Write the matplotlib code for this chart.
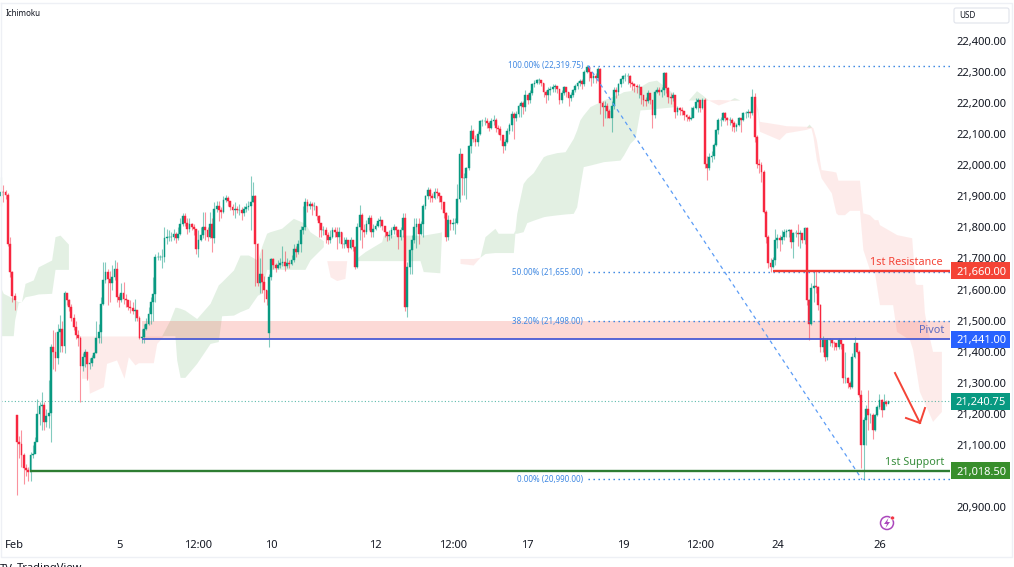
import numpy as np
import matplotlib
matplotlib.use("Agg")
import matplotlib.pyplot as plt
from matplotlib.patches import Rectangle, Circle, Polygon, FancyBboxPatch

plt.rcParams["font.family"] = ["Noto Sans", "DejaVu Sans"]

first_open = 21900
gap_opens = {7: 21197, 118: 21459}

closes = [
21915,21912,21905,21748,21657,21579,21568,21111,21105,21068,
21028,21020,21015,21070,21072,21111,21200,21225,21228,21176,
21195,21205,21416,21400,21380,21465,21475,21420,21590,21566,
21545,21510,21480,21455,21445,21355,21385,21400,21360,21365,
21380,21395,21445,21465,21555,21630,21655,21635,21620,21640,
21665,21577,21565,21590,21570,21565,21545,21540,21530,21535,
21510,21445,21448,21475,21490,21520,21560,21585,21705,21705,
21705,21705,21765,21770,21770,21770,21777,21765,21780,21810,
21835,21815,21795,21810,21800,21795,21730,21760,21775,21800,
21790,21770,21810,21765,21860,21870,21855,21850,21888,21895,
21885,21865,21855,21860,21855,21855,21845,21860,21865,21870,
21880,21900,21745,21620,21650,21625,21600,21570,21640,21697,
21680,21668,21680,21685,21690,21675,21687,21682,21695,21730,
21720,21745,21790,21800,21880,21870,21875,21870,21870,21835,
21815,21790,21790,21775,21760,21770,21790,21785,21770,21786,
21745,21748,21759,21732,21759,21738,21673,21802,21840,21790,
21785,21810,21830,21785,21795,21805,21820,21825,21805,21785,
21772,21775,21790,21800,21790,21770,21790,21830,21545,21673,
21727,21760,21800,21810,21780,21810,21870,21900,21920,21900,
21895,21915,21910,21900,21880,21845,21770,21825,21810,21815,
21815,21890,22035,21957,21960,21990,22060,22110,22085,22075,
22100,22140,22140,22142,22135,22120,22140,22145,22120,22115,
22096,22060,22075,22110,22130,22165,22150,22165,22190,22200,
22185,22225,22210,22230,22260,22265,22272,22272,22265,22235,
22225,22240,22245,22250,22255,22245,22210,22230,22250,22235,
22215,22225,22240,22255,22265,22270,22260,22300,22315,22300,
22280,22285,22280,22310,22200,22185,22190,22175,22150,22190,
22240,22235,22260,22275,22285,22285,22285,22265,22260,22255,
22250,22250,22225,22210,22205,22230,22210,22160,22236,22241,
22236,22240,22295,22247,22220,22214,22225,22170,22182,22178,
22175,22160,22155,22147,22150,22182,22204,22209,22182,22209,
22005,21989,22027,22030,22064,22112,22145,22145,22166,22150,
22145,22145,22135,22123,22128,22150,22145,22166,22166,22172,
22166,22220,22091,22005,22000,21979,21850,21770,21684,21674,
21695,21759,21765,21760,21770,21786,21788,21791,21754,21781,
21783,21779,21781,21759,21797,21566,21491,21604,21610,21608,
21550,21416,21438,21384,21438,21438,21430,21427,21416,21438,
21425,21315,21315,21299,21288,21384,21427,21400,21261,21100,
21181,21215,21197,21197,21149,21197,21224,21245,21213,21240,
21234,21240.75]

highs = [
21963,21935,21920,21910,21770,21660,21590,21197,21130,21150,
21075,21040,21030,21078,21100,21125,21250,21240,21272,21240,
21215,21309,21425,21470,21465,21490,21518,21500,21595,21590,
21570,21555,21520,21500,21470,21450,21395,21410,21400,21380,
21390,21400,21500,21490,21575,21690,21690,21665,21660,21680,
21695,21690,21585,21620,21625,21585,21565,21565,21560,21570,
21535,21515,21475,21490,21510,21545,21575,21640,21715,21720,
21712,21730,21800,21795,21790,21785,21795,21785,21800,21830,
21845,21845,21830,21830,21815,21810,21790,21790,21800,21850,
21850,21800,21850,21830,21880,21885,21885,21865,21900,21905,
21900,21885,21875,21880,21870,21875,21865,21870,21878,21885,
21965,21945,21905,21750,21700,21730,21645,21600,21650,21700,
21700,21685,21695,21700,21740,21725,21700,21695,21710,21745,
21740,21760,21805,21870,21895,21890,21885,21880,21880,21870,
21840,21815,21805,21800,21785,21790,21800,21800,21800,21800,
21785,21770,21770,21760,21770,21760,21740,21815,21872,21845,
21810,21825,21840,21840,21810,21815,21830,21835,21825,21805,
21785,21790,21800,21810,21805,21795,21800,21845,21845,21690,
21730,21775,21830,21830,21830,21820,21875,21905,21930,21925,
21910,21925,21925,21915,21900,21880,21850,21840,21825,21830,
21830,21940,22055,22035,21975,21995,22065,22130,22115,22095,
22110,22145,22148,22155,22150,22140,22150,22160,22150,22130,
22125,22090,22085,22120,22135,22175,22170,22175,22195,22205,
22205,22240,22230,22240,22265,22272,22278,22280,22272,22265,
22240,22250,22255,22262,22262,22255,22245,22240,22255,22250,
22235,22235,22245,22260,22270,22275,22275,22305,22320,22318,
22300,22295,22295,22315,22312,22205,22205,22200,22180,22205,
22250,22250,22265,22280,22290,22295,22295,22290,22270,22265,
22262,22262,22250,22225,22220,22240,22225,22210,22240,22250,
22250,22250,22300,22300,22250,22232,22235,22225,22190,22188,
22185,22175,22165,22160,22185,22190,22215,22215,22210,22215,
22215,22030,22040,22045,22070,22115,22150,22155,22172,22170,
22155,22155,22150,22140,22135,22155,22152,22170,22175,22180,
22175,22243,22230,22095,22020,22010,21985,21855,21775,21700,
21705,21795,21780,21775,21790,21795,21795,21795,21795,21785,
21790,21810,21790,21770,21800,21800,21570,21620,21660,21660,
21612,21555,21450,21440,21445,21445,21440,21435,21430,21445,
21440,21425,21400,21320,21305,21395,21448,21430,21405,21277,
21190,21230,21277,21205,21205,21200,21230,21265,21250,21265,
21245,21243]

lows = [
21870,21880,21890,21740,21640,21560,21534,20940,21060,21030,
20975,21000,20985,20985,21060,21105,21190,21165,21150,21150,
21160,21155,21110,21345,21340,21360,21400,21400,21395,21550,
21530,21500,21470,21440,21420,21238,21340,21350,21310,21345,
21355,21380,21395,21430,21430,21550,21620,21550,21560,21600,
21630,21560,21545,21560,21555,21545,21535,21525,21520,21500,
21500,21440,21430,21430,21470,21485,21490,21500,21560,21695,
21695,21670,21690,21745,21755,21755,21760,21750,21760,21775,
21805,21805,21780,21785,21790,21775,21715,21705,21755,21765,
21760,21755,21765,21720,21750,21850,21820,21830,21845,21880,
21870,21855,21840,21830,21845,21840,21825,21835,21850,21855,
21790,21880,21610,21610,21590,21590,21560,21550,21416,21630,
21665,21655,21665,21670,21675,21660,21670,21670,21680,21690,
21705,21715,21720,21780,21790,21850,21860,21840,21855,21825,
21770,21770,21775,21750,21745,21750,21765,21770,21730,21750,
21735,21735,21740,21720,21730,21725,21665,21670,21760,21735,
21770,21780,21790,21770,21770,21790,21800,21800,21790,21770,
21755,21760,21765,21780,21775,21730,21760,21770,21530,21512,
21650,21650,21750,21735,21745,21775,21770,21860,21890,21880,
21880,21890,21895,21880,21860,21830,21755,21760,21790,21790,
21780,21810,21880,21905,21905,21890,21985,22040,22075,22060,
22060,22095,22125,22130,22120,22110,22115,22130,22105,22100,
22080,22040,22050,22070,22100,22110,22085,22140,22155,22155,
22165,22175,22195,22200,22225,22250,22260,22262,22255,22220,
22200,22210,22225,22235,22235,22230,22195,22200,22225,22220,
22190,22205,22220,22235,22245,22255,22245,22255,22295,22270,
22255,22265,22265,22270,22165,22125,22150,22150,22150,22105,
22180,22215,22225,22250,22265,22270,22260,22250,22240,22235,
22230,22215,22195,22190,22190,22200,22195,22118,22150,22230,
22225,22220,22225,22230,22200,22195,22205,22150,22160,22160,
22160,22145,22140,22140,22145,22170,22180,22170,22170,22180,
21990,21952,21985,22010,22020,22060,22100,22125,22140,22140,
22130,22130,22110,22105,22110,22125,22107,22140,22150,22155,
22150,22160,22075,21990,21975,21945,21845,21750,21670,21655,
21670,21680,21735,21725,21745,21760,21770,21770,21735,21700,
21770,21740,21735,21750,21745,21550,21438,21485,21560,21590,
21535,21400,21400,21370,21375,21420,21415,21405,21405,21410,
21410,21300,21300,21285,21280,21285,21380,21395,21255,21026,
20988,21100,21150,21170,21120,21145,21195,21215,21190,21230,
21225,21238]

# Ichimoku cloud pieces (bar position, upper edge, lower edge)
green_a_x = [0,1,5.4,6,7.6,9,10.6,14.2,16.4,22.3,23.8,26,29.7]
green_a_top = [21604,21588,21572,21568,21561,21561,21620,21631,21673,21695,21770,21775,21746]
green_a_bot = [21452,21452,21452,21502,21558,21561,21577,21582,21586,21588,21665,21665,21665]

green_b_x = [70.8,74.4,76.6,77.4,78.9,81,86.2,92.1,95.7,97.2,102.4,105.3,109,113,114.8,117,118.5,123.6,128.8,133.9,136.1,142]
green_b_top = [21452,21502,21543,21543,21540,21534,21507,21556,21615,21625,21663,21711,21711,21695,21738,21781,21786,21797,21829,21813,21786,21757]
green_b_bot = [21452,21452,21452,21374,21318,21318,21363,21427,21433,21516,21518,21529,21540,21582,21588,21665,21665,21665,21665,21665,21695,21738]

green_c_x = [155.2,160.4,164,167.7,168.4,184.6,186,193.3,194]
green_c_top = [21693,21722,21738,21754,21775,21775,21775,21784,21786]
green_c_bot = [21693,21693,21693,21693,21693,21693,21658,21654,21770]

green_d_x = [211,213.2,217.6,219,225.7,226.4,227.2,230,231.6,234.5,238.9,240.4,244.8,248.5,252.1,253.6,255,256.5,259.5,265.4,272.7,274.2,277.1,279.3,281.5,285.2,288.8,296.2,297]
green_d_top = [21704,21770,21797,21781,21781,21791,21845,21941,21957,21976,22027,22032,22040,22043,22086,22113,22145,22161,22188,22209,22230,22236,22239,22250,22252,22268,22273,22230,22209]
green_d_bot = [21704,21716,21719,21719,21719,21781,21781,21786,21815,21823,21834,21836,21840,21843,21845,21866,21931,21995,22000,22011,22016,22032,22070,22086,22177,22179,22182,22187,22209]

green_e_x = [302.8,306.4,309,311.6]
green_e_top = [22209,22239,22225,22209]
green_e_bot = [22209,22209,22209,22209]

green_f_x = [321.1,323,325.5]
green_f_top = [22209,22217,22209]
green_f_bot = [22209,22209,22209]

green_g_x = [354.8,356,357]
green_g_top = [22122,22132,22122]
green_g_bot = [22122,22122,22122]

red_a_x = [34.8,35.5,38.5,38.9,45.1,46.5,50.9,54.2,56.1,59,60.5,67.1,68.6,71.5]
red_a_top = [21451]*14
red_a_bot = [21451,21315,21315,21267,21288,21363,21374,21315,21384,21358,21365,21365,21427,21451]

red_b_x = [143.5,145,147.9,151.5,152.3]
red_b_top = [21693]*5
red_b_bot = [21693,21641,21629,21636,21693]

red_d_x = [202.2,208,211]
red_d_top = [21700,21700,21704]
red_d_bot = [21684,21679,21704]

red_e_x = [311.6,316,321.1,325.5,330.7]
red_e_top = [22209,22211,22209,22209,22209]
red_e_bot = [22209,22193,22207,22209,22209]

red_f_top_x = [332,333.6,334.3,343,346,354.8,357,357.9,359.4,361.5,366,368,368.9,378.4,379.9,382.8,385,386.5,387.2,394.8,401.4,402.9,403.5,406.2,407,408.4,410.6,414.5]
red_f_top = [22209,22177,22139,22129,22125,22123,22123,22118,22080,21984,21979,21976,21950,21950,21845,21839,21823,21823,21807,21775,21765,21620,21615,21615,21525,21470,21400,21400]
red_f_bot_x = [332,333.6,334.3,343,346,354.8,357,357.9,359.4,361.5,366,368,368.9,371.8,374,378.4,379.9,382.8,385,387.2,393,394.7,400.4,401.8,404.8,410.6,414.5]
red_f_bot = [22209,22161,22107,22080,22102,22113,22118,22091,22016,21957,21909,21845,21839,21839,21853,21853,21727,21663,21653,21550,21550,21464,21438,21406,21271,21175,21207]

price_ticks = [22400,22300,22200,22100,22000,21900,21800,21700,21600,21500,21400,21300,21200,21100,20900]
time_tick_bars = [6,52,87,119,165,199,232,274,308,342,387]
time_tick_labels = ["Feb","5","12:00","10","12","12:00","17","19","12:00","24","26"]

resistance, pivot, pivot_top, support, last_price = 21660.0, 21441.0, 21498.0, 21018.5, 21240.75
fib_prices = [22319.75, 21655.0, 21498.0, 20990.0]
fib_labels = ["100.00% (22,319.75)", "50.00% (21,655.00)", "38.20% (21,498.00)", "0.00% (20,990.00)"]
swing_high_bar, swing_low_bar = 258.6, 379.3
level_start_bars = {"support": 12.8, "pivot": 62, "resistance": 340.1}

UP, DOWN = "#089981", "#f7263f"
TXT = "#131722"

n = len(closes)
c = np.array(closes[:n], float)
h = np.array(highs[:n], float)
l = np.array(lows[:n], float)
o = np.r_[first_open, c[:-1]]
for k, v in gap_opens.items():
    o[k] = v
x = np.arange(n)
up = c >= o

PX = 2.27
fig = plt.figure(figsize=(10.14, 5.67), dpi=100, facecolor="white")
ax = fig.add_axes([0, (567 - 532) / 567, 950 / 1014, 529 / 567], facecolor="white")
ax.set_xlim(-1 / PX, 949 / PX)
ax.set_ylim(20900 - 24.5 / 0.3113, 20900 + 504.5 / 0.3113)
for s in ax.spines.values():
    s.set_visible(False)

GREEN_CLOUD = dict(color="#43a047", alpha=0.15, lw=0, zorder=1)
RED_CLOUD = dict(color="#f44336", alpha=0.10, lw=0, zorder=1)
for xs, t, b in [(green_a_x, green_a_top, green_a_bot), (green_b_x, green_b_top, green_b_bot),
                 (green_c_x, green_c_top, green_c_bot), (green_d_x, green_d_top, green_d_bot),
                 (green_e_x, green_e_top, green_e_bot), (green_f_x, green_f_top, green_f_bot),
                 (green_g_x, green_g_top, green_g_bot)]:
    ax.fill_between(xs, t, b, **GREEN_CLOUD)
for xs, t, b in [(red_a_x, red_a_top, red_a_bot), (red_b_x, red_b_top, red_b_bot),
                 (red_d_x, red_d_top, red_d_bot), (red_e_x, red_e_top, red_e_bot)]:
    ax.fill_between(xs, t, b, **RED_CLOUD)
ax.fill(red_f_top_x + red_f_bot_x[::-1], red_f_top + red_f_bot[::-1], **RED_CLOUD)

xr = ax.get_xlim()[1]
# pivot zone
ax.fill_between([level_start_bars["pivot"], xr], pivot, pivot_top, color="#f44336", alpha=0.2, lw=0, zorder=1.5)

# candles
colors = np.where(up, UP, DOWN)
ax.vlines(x, l, h, colors=list(colors), lw=0.8, alpha=0.5, zorder=3)
ax.bar(x, np.abs(c - o), bottom=np.minimum(c, o), width=0.8, color=list(colors),
       edgecolor=list(colors), linewidth=0.3, zorder=3.5)

# levels
ax.hlines(support, level_start_bars["support"], xr, color="#2e7d32", lw=1.7, zorder=4)
ax.hlines(pivot, level_start_bars["pivot"], xr, color="#4a5bd4", lw=1.3, zorder=4)
ax.hlines(resistance, level_start_bars["resistance"], xr, color="#f23a33", lw=1.7, zorder=4)
ax.hlines(last_price, 0, xr, color=UP, lw=0.8, linestyles=(0, (1, 2)), alpha=0.65, zorder=2)

# fib
FIB = "#2a7de1"
for p, lab in zip(fib_prices, fib_labels):
    ax.hlines(p, swing_high_bar, xr, color=FIB, lw=1.0, linestyles=(0, (1, 2.6)), zorder=3.8)
    ax.annotate(lab, (swing_high_bar, p), xytext=(-5, 0), textcoords="offset pixels", ha="right", va="center",
                fontsize=5.8, color="#3f88e2", zorder=6)
ax.plot([swing_high_bar, swing_low_bar], [fib_prices[0], fib_prices[3]], color="#5b9cf6", lw=0.9,
        ls=(0, (3, 3)), zorder=3.8)

# text labels
ax.annotate("1st Resistance", (xr, resistance), xytext=(-7, 8), textcoords="offset pixels", ha="right", va="center",
            fontsize=7.8, color="#f44336", fontweight="medium", zorder=6)
ax.annotate("Pivot", (xr, pivot), xytext=(-6, 9), textcoords="offset pixels", ha="right", va="center",
            fontsize=7.8, color="#5c6bc0", fontweight="medium", zorder=6)
ax.annotate("1st Support", (xr, support), xytext=(-6, 8), textcoords="offset pixels", ha="right", va="center",
            fontsize=7.8, color="#388e3c", fontweight="medium", zorder=6)

# axes
ax.yaxis.tick_right()
ax.set_yticks(price_ticks)
ax.set_yticklabels([f"{v:,.2f}" for v in price_ticks], fontsize=8, color=TXT)
ax.set_xticks(time_tick_bars)
ax.set_xticklabels(time_tick_labels, fontsize=8, color=TXT)
ax.get_xticklabels()[0].set_fontweight("bold")
ax.tick_params(axis="both", length=0)
ax.tick_params(axis="y", pad=4.5)
ax.tick_params(axis="x", pad=6)

# price boxes
yt = ax.get_yaxis_transform()
hbox = 17 / 0.3113
for p, txt, col in [(resistance, "21,660.00", "#f44336"), (pivot, "21,441.00", "#2962ff"),
                    (last_price, "21,240.75", "#089981"), (support, "21,018.50", "#388e2c")]:
    ax.add_patch(Rectangle((951 / 950, p - hbox / 2), 59 / 950, hbox, transform=yt, facecolor=col,
                           edgecolor="none", clip_on=False, zorder=7))
    ax.text(981 / 950, p, txt, transform=yt, ha="center", va="center_baseline", fontsize=8,
            color="white", zorder=8, clip_on=False)

# overlay in image pixels: frame, legend, arrow, icon
ov = fig.add_axes([0, 0, 1, 1], facecolor="none")
ov.set_xlim(0, 1014)
ov.set_ylim(567, 0)
ov.axis("off")
ov.plot([1, 1012, 1012, 1, 1], [3, 3, 557, 557, 3], color="#eef0f5", lw=1)
ov.text(6, 13.5, "Ichimoku", fontsize=5.8, color=TXT, va="center")
ov.add_patch(FancyBboxPatch((954, 8), 55, 15, boxstyle="round,pad=0,rounding_size=2",
                            facecolor="white", edgecolor="#e0e3eb", lw=0.8))
ov.text(959, 15.5, "USD", fontsize=5.8, color=TXT, va="center")
ov.plot([895, 920], [373, 423], color="#f44336", lw=1.4)
ov.plot([906, 920, 925], [418, 423, 408], color="#f44336", lw=1.4)
ov.add_patch(Circle((887, 523), 6.5, fill=False, edgecolor="#ab47bc", lw=1.1))
ov.add_patch(Polygon([[888.5, 518], [884, 524], [887, 524], [885.5, 528], [890, 522], [887.2, 522]],
                     closed=True, facecolor="#ab47bc", edgecolor="none"))
ov.add_patch(Circle((892.5, 518), 2, facecolor="#f23645", edgecolor="white", lw=0.4))
ov.text(0, 563.5, "TV", fontsize=8, fontweight="bold", color="#131722", va="top", clip_on=True)
ov.text(17, 563.5, "TradingView", fontsize=8, fontweight="bold", color="#131722", va="top", clip_on=True)

fig.savefig("out.png", dpi=100)
print(len(closes), len(highs), len(lows))
